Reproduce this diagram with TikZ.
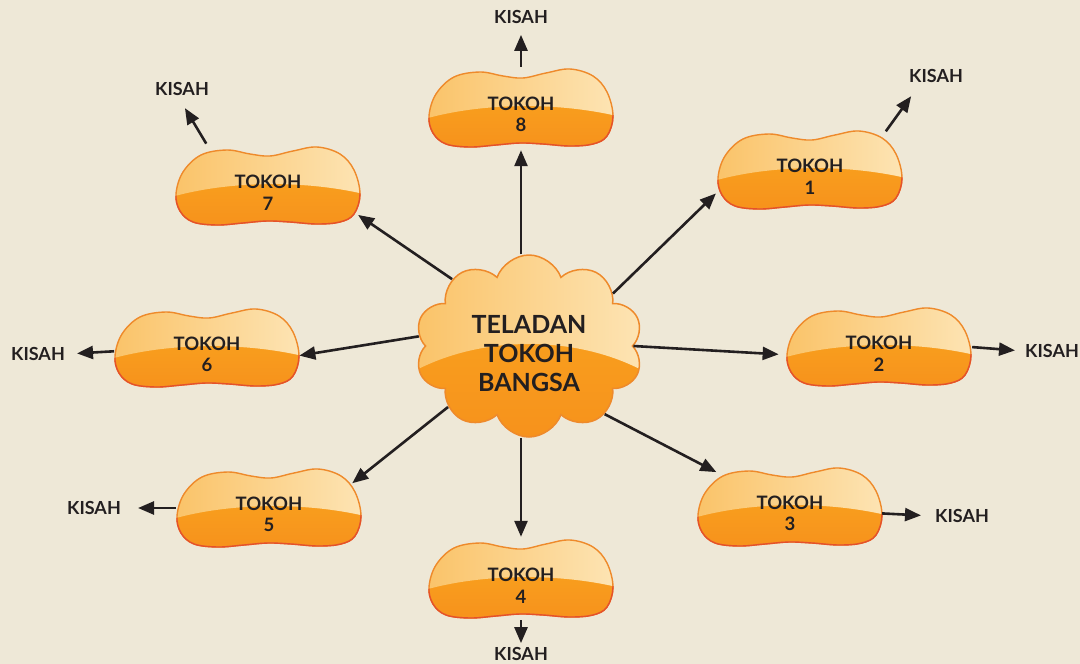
\documentclass[tikz,border=0pt]{standalone}
\usepackage{fontspec}
\setmainfont{Lato}
\usepackage{tikz}
\usetikzlibrary{shapes.symbols, shapes.geometric, arrows.meta, calc}

\definecolor{Paper}{HTML}{EEE8D7}
\definecolor{Ink}{HTML}{231F20}
\definecolor{GlowLeft}{HTML}{FAC266}
\definecolor{GlowRight}{HTML}{FDE5B6}
\definecolor{AmberTop}{HTML}{F9A81F}
\definecolor{AmberBottom}{HTML}{F7921C}
\definecolor{RimOrange}{HTML}{EE8A2B}
\definecolor{RimRed}{HTML}{E5512A}

\tikzset{
  beanspot/.style={ellipse, minimum width=184pt, minimum height=80pt, inner sep=0pt},
  beanlabel/.style={font=\fontsize{18.5}{21.5}\selectfont\bfseries, text=Ink, align=center, inner sep=0pt},
  kisahlabel/.style={font=\fontsize{18}{21.5}\selectfont\bfseries, text=Ink, inner sep=2pt},
  cloudlabel/.style={font=\fontsize{25}{29}\selectfont\bfseries, text=Ink, align=center, inner sep=0pt},
  cloudbox/.style={cloud, cloud puffs=10, cloud puff arc=140, cloud ignores aspect, minimum width=228pt, minimum height=182pt, inner sep=0pt, draw=RimOrange, line width=1.5pt, top color=AmberTop, bottom color=AmberBottom,
    path picture={
      \shade[left color=GlowLeft, right color=GlowRight]
        ($(path picture bounding box.center)+(-120,28)$) .. controls ($(path picture bounding box.center)+(-50,-12)$) and ($(path picture bounding box.center)+(50,-12)$) .. ($(path picture bounding box.center)+(120,28)$)
        -- ($(path picture bounding box.center)+(120,-120)$) -- ($(path picture bounding box.center)+(-120,-120)$) -- cycle;
    }},
  link/.style={-{Triangle[length=16pt, width=13pt]}, line width=2.6pt, Ink}
}

% outline of one bean, around its own centre
\def\beanpath{plot[smooth cycle, tension=0.6] coordinates {(-92,8) (-85,-14) (-67,-31) (-41,-36) (-18,-32) (2,-30) (25,-35) (49,-39) (72,-32) (86,-16) (92,8) (86,28) (72,36) (49,38) (22,36) (-1,35) (-25,37) (-51,39) (-75,36) (-88,25)}}

\newcommand{\tokohbean}[3]{%
  \begin{scope}[shift={(#2,#3)}]
    \shade[top color=AmberTop, bottom color=AmberBottom] \beanpath;
    \begin{scope}
      \clip \beanpath;
      \shade[left color=GlowLeft, right color=GlowRight] (-100,-50) -- (100,-50) -- (100,9) .. controls (40,-6) and (-40,-6) .. (-100,12) -- cycle;
    \end{scope}
    \draw[RimOrange, line width=1.4pt] \beanpath;
    \begin{scope}
      \clip (-100,12) .. controls (-40,-6) and (40,-6) .. (100,9) -- (100,50) -- (-100,50) -- cycle;
      \draw[RimRed, line width=1.4pt] \beanpath;
    \end{scope}
  \end{scope}
  \node[beanspot] (b#1) at (#2,#3) {};
  \node[beanlabel] (b#1-t) at (#2,#3+6.5) {TOKOH\\#1};
}

\begin{document}
\begin{tikzpicture}[x=1pt, y=-1pt]
  % Background
  \fill[Paper] (0,0) rectangle (1080,664);
  \useasboundingbox (0,0) rectangle (1080,664);

  % Central cloud
  \node[cloudbox] (cloud) at (529,346) {};
  \node[cloudlabel] (cloud-t) at (529,353.5) {TELADAN\\TOKOH\\BANGSA};

  % Tokoh beans
  \foreach \n/\x/\y in {1/810/170, 2/879/347, 3/790/507, 4/521/579, 5/269/508, 6/207/348, 7/268/186, 8/521/108} {
    \tokohbean{\n}{\x}{\y}
  }

  % Cloud to tokoh
  \foreach \n/\from/\to/\gap in {1/32/190/12, 2/0/185/10, 3/-42/155/12, 5/217/15/6, 6/175/-5/2, 7/139/-15/14}
    \draw[link, shorten >=\gap pt] (cloud.\from) -- (b\n.\to);
  \draw[link, shorten >=2pt] (cloud.north -| b8.south) -- (b8.south);
  \draw[link, shorten >=2pt] (cloud.south -| b4.north) -- (b4.north);

  % Kisah labels
  \foreach \n/\x/\y in {1/936/76, 2/1052/351, 3/962/516, 4/521/654, 5/94/508, 6/38/354, 7/182/89, 8/521/17}
    \node[kisahlabel] (k\n) at (\x,\y) {KISAH};

  % Tokoh to kisah
  \foreach \n/\from/\to/\lead/\gap in {1/22/208/14/14, 2/0/180/1/8, 3/-4/180/1/12, 4/270/90/1/2, 5/180/0/1/15, 6/182/0/1/10, 7/150/250/12/12, 8/90/270/1/9}
    \draw[link, shorten <=\lead pt, shorten >=\gap pt] (b\n.\from) -- (k\n.\to);
\end{tikzpicture}
\end{document}
